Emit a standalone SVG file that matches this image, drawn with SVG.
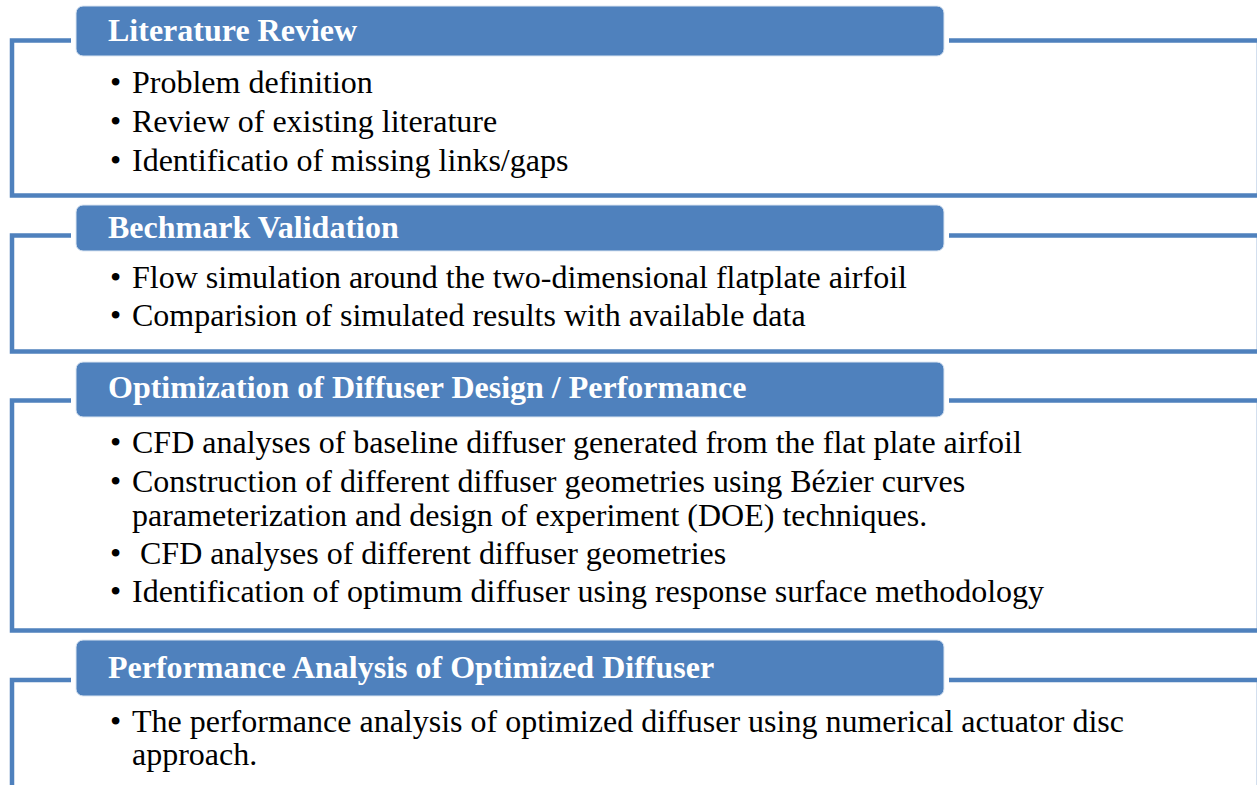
<svg xmlns="http://www.w3.org/2000/svg" width="1257" height="785" viewBox="0 0 1257 785">
<style>
.frame{fill:none;stroke:#4F81BD;stroke-width:4.5;stroke-linejoin:miter}
.hdr{fill:#4F81BD;stroke:#DCE6F2;stroke-width:1}
.ht{font-family:"Liberation Serif","Times New Roman",serif;font-weight:bold;font-size:32px;fill:#FFFFFF}
.bt{font-family:"Liberation Serif","Times New Roman",serif;font-size:32px;fill:#000000}
</style>
<rect width="1257" height="785" fill="#FFFFFF"/>
<g id="connectors">
<path class="frame" d="M71,40.5 H12 V195.5 H1259 V40.5 H949"/>
<path class="frame" d="M71,235.5 H12 V351.5 H1259 V235.5 H949"/>
<path class="frame" d="M71,400.5 H12 V630.5 H1259 V400.5 H949"/>
<path class="frame" d="M71,680 H12 V800 M1259,800 V680 H949"/>
</g>
<g id="node1">
<rect class="hdr" x="76" y="6" width="868" height="50" rx="7"/>
<text class="ht" x="108" y="41">Literature Review</text>
<text class="bt"><tspan x="110" y="93">•</tspan><tspan x="132" y="93">Problem definition</tspan></text>
<text class="bt"><tspan x="110" y="132">•</tspan><tspan x="132" y="132">Review of existing literature</tspan></text>
<text class="bt"><tspan x="110" y="171">•</tspan><tspan x="132" y="171">Identificatio of missing links/gaps</tspan></text>
</g>
<g id="node2">
<rect class="hdr" x="76" y="205" width="868" height="46" rx="7"/>
<text class="ht" x="108" y="238">Bechmark Validation</text>
<text class="bt"><tspan x="110" y="288">•</tspan><tspan x="132" y="288">Flow simulation around the two-dimensional flatplate airfoil</tspan></text>
<text class="bt"><tspan x="110" y="326">•</tspan><tspan x="132" y="326">Comparision of simulated results with available data</tspan></text>
</g>
<g id="node3">
<rect class="hdr" x="76" y="362" width="868" height="55" rx="7"/>
<text class="ht" x="108" y="398">Optimization of Diffuser Design / Performance</text>
<text class="bt"><tspan x="110" y="453">•</tspan><tspan x="132" y="453">CFD analyses of baseline diffuser generated from the flat plate airfoil</tspan></text>
<text class="bt"><tspan x="110" y="492">•</tspan><tspan x="132" y="492">Construction of different diffuser geometries using Bézier curves</tspan></text>
<text class="bt"><tspan x="132" y="526">parameterization and design of experiment (DOE) techniques.</tspan></text>
<text class="bt"><tspan x="110" y="564">•</tspan><tspan x="140" y="564">CFD analyses of different diffuser geometries</tspan></text>
<text class="bt"><tspan x="110" y="602">•</tspan><tspan x="132" y="602">Identification of optimum diffuser using response surface methodology</tspan></text>
</g>
<g id="node4">
<rect class="hdr" x="76" y="640" width="868" height="56" rx="7"/>
<text class="ht" x="108" y="678">Performance Analysis of Optimized Diffuser</text>
<text class="bt"><tspan x="110" y="732">•</tspan><tspan x="132" y="732">The performance analysis of optimized diffuser using numerical actuator disc</tspan></text>
<text class="bt"><tspan x="132" y="765">approach.</tspan></text>
</g>
</svg>
